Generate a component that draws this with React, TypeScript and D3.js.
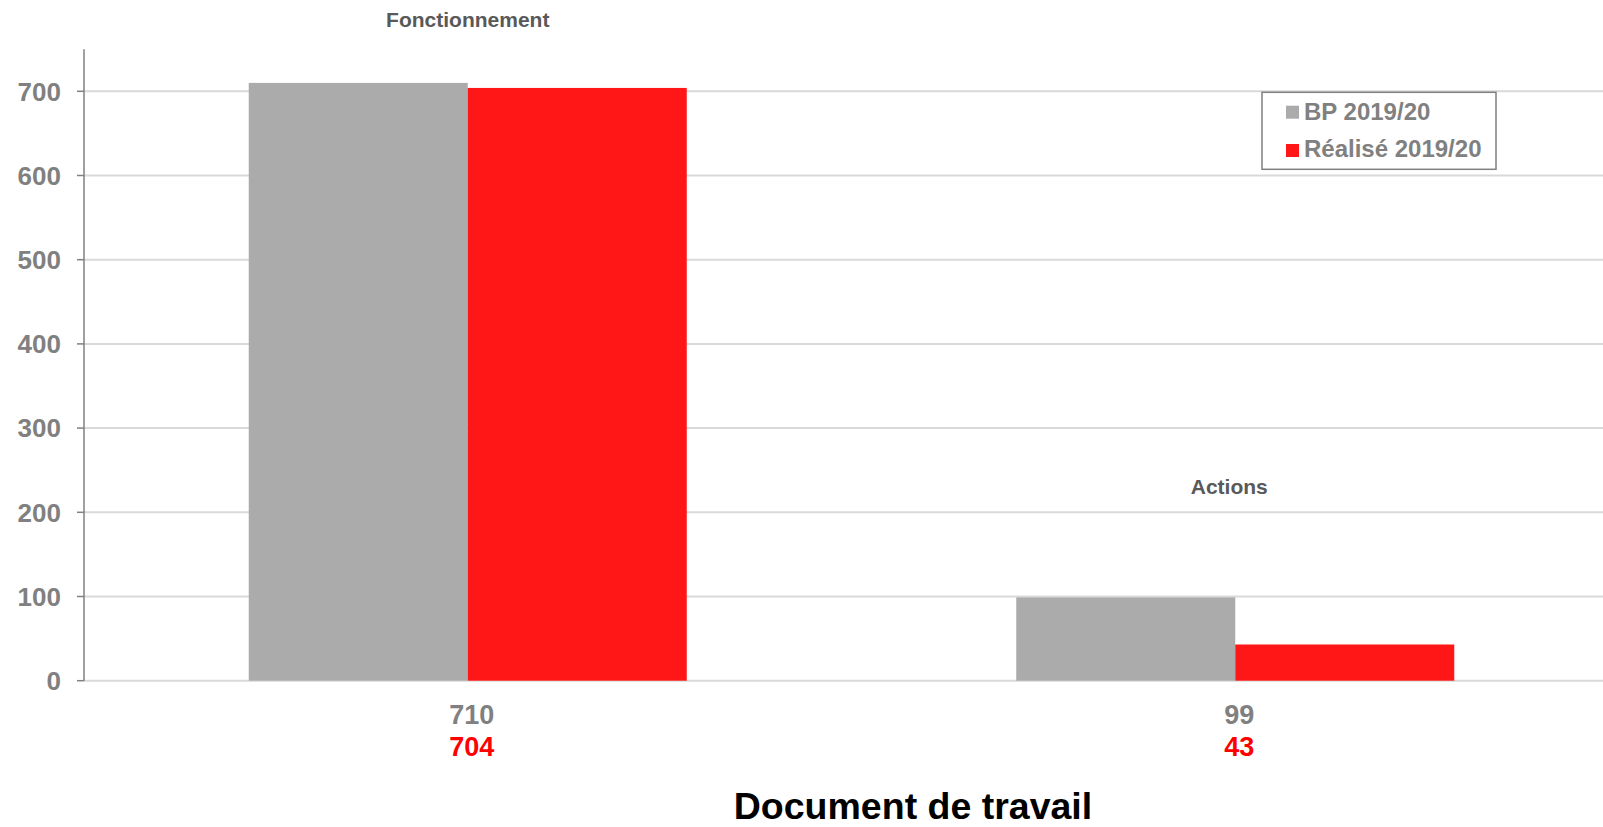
import React from "react";
import * as d3 from "d3";

const categories = ["Fonctionnement", "Actions"];
const seriesNames = ["BP 2019/20", "Réalisé 2019/20"];
const bpValues = [710, 99];
const realiseValues = [704, 43];
const yTicks = [0, 100, 200, 300, 400, 500, 600, 700];
const footerText = "Document de travail";

const W = 1603;
const H = 827;
const FONT = "Liberation Sans, Arial, Helvetica, sans-serif";
const barColors = ["#ABABAB", "#FF1616"];
const labelColors = ["#808080", "#FF0000"];

export default function App() {
  const x0 = d3.scaleBand<string>().domain(categories).range([84, 1619]).paddingInner(0.4293).paddingOuter(0.4293 / 2);
  const x1 = d3.scaleBand<string>().domain(seriesNames).range([0, x0.bandwidth()]).padding(0);
  const y = d3.scaleLinear().domain([0, 700]).range([680.7, 91.3]);
  const series = [bpValues, realiseValues];
  const titleBaselines = [27.3, 494];
  const titleShift = [0, -6];

  return (
    <svg width={W} height={H} style={{ position: "absolute", left: 0, top: 0, display: "block", background: "#fff" }} fontFamily={FONT}>
      {/* gridlines */}
      {yTicks.map((t) => (
        <line key={"g" + t} x1={84} x2={W} y1={y(t)} y2={y(t)} stroke="#D9D9D9" strokeWidth={2} />
      ))}
      {/* bars */}
      {categories.map((c, ci) =>
        seriesNames.map((s, si) => (
          <rect
            key={c + s}
            x={(x0(c) as number) + (x1(s) as number)}
            y={y(series[si][ci])}
            width={x1.bandwidth()}
            height={y(0) - y(series[si][ci])}
            fill={barColors[si]}
          />
        ))
      )}
      {/* y axis */}
      <line x1={84} x2={84} y1={49.3} y2={y(0)} stroke="#808080" strokeWidth={1.5} />
      {yTicks.map((t) => (
        <g key={"t" + t}>
          <line x1={77} x2={84} y1={y(t)} y2={y(t)} stroke="#808080" strokeWidth={1.5} />
          <text x={61} y={y(t)} dy="0.36em" textAnchor="end" fontSize={26} fontWeight="bold" fill="#808080">
            {t}
          </text>
        </g>
      ))}
      {/* category titles */}
      {categories.map((c, ci) => (
        <text
          key={"ct" + c}
          x={(x0(c) as number) + x0.bandwidth() / 2 + titleShift[ci]}
          y={titleBaselines[ci]}
          textAnchor="middle"
          fontSize={21}
          fontWeight="bold"
          fill="#595959"
        >
          {c}
        </text>
      ))}
      {/* value labels under axis */}
      {categories.map((c, ci) =>
        series.map((vals, si) => (
          <text
            key={"v" + c + si}
            x={(x0(c) as number) + x0.bandwidth() / 2 + 4}
            y={723.5 + si * 32}
            textAnchor="middle"
            fontSize={27}
            fontWeight="bold"
            fill={labelColors[si]}
          >
            {vals[ci]}
          </text>
        ))
      )}
      {/* legend */}
      <rect x={1262} y={92.3} width={234} height={77} fill="#fff" stroke="#808080" strokeWidth={1.5} />
      {seriesNames.map((s, si) => (
        <g key={"l" + s}>
          <rect x={1286} y={105.7 + si * 38.3} width={13} height={13} fill={barColors[si]} />
          <text x={1304} y={120 + si * 37.3} fontSize={24} fontWeight="bold" fill="#808080">
            {s}
          </text>
        </g>
      ))}
      {/* footer */}
      <text x={913} y={818.5} textAnchor="middle" fontSize={37.5} fontWeight="bold" fill="#000">
        {footerText}
      </text>
    </svg>
  );
}
